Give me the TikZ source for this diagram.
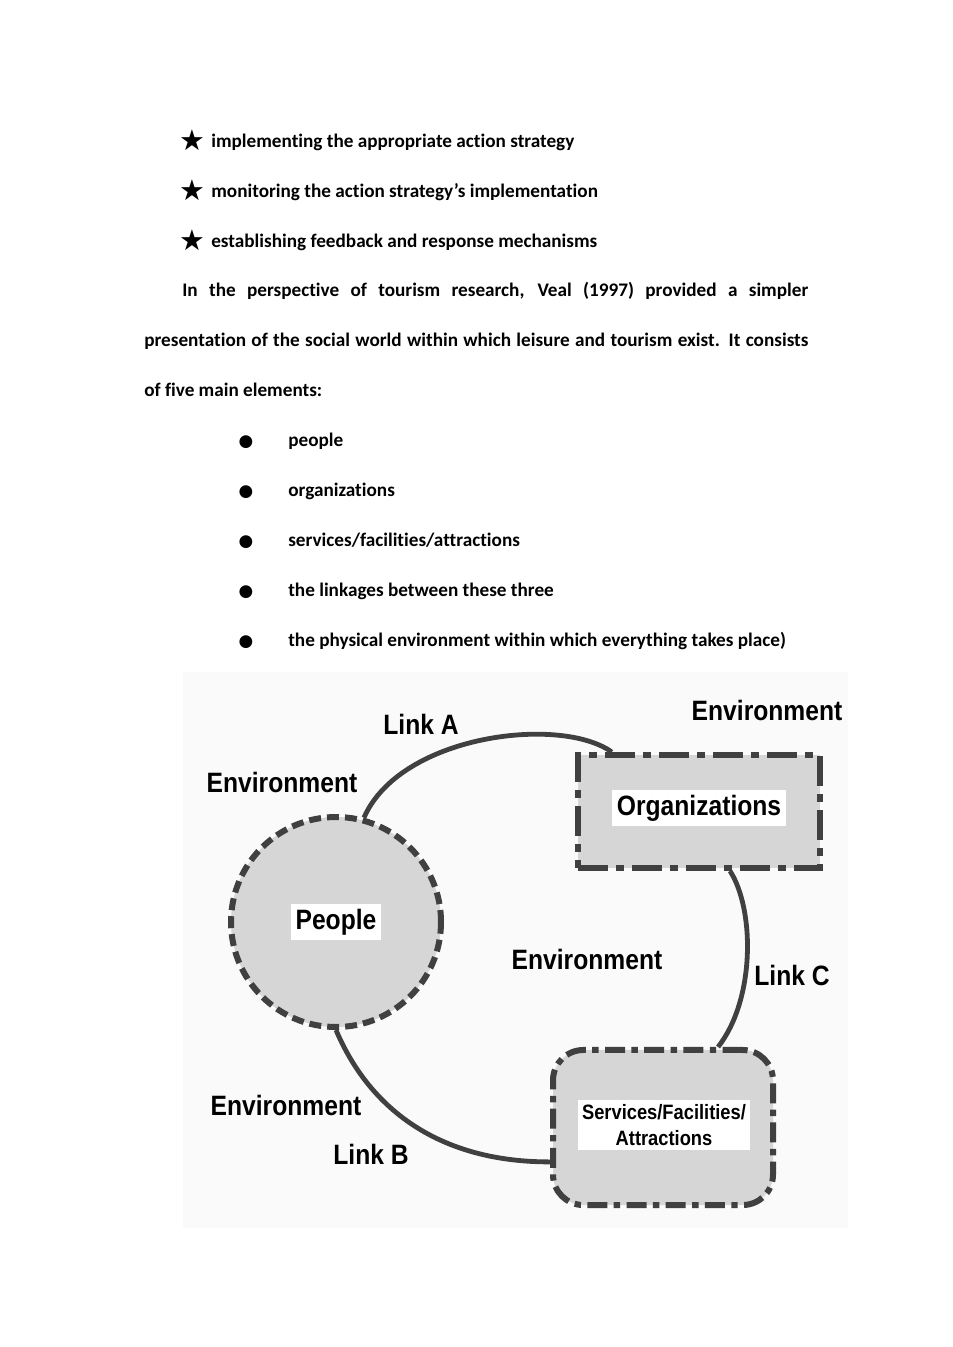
\documentclass[tikz,border=0pt]{standalone}
\usepackage{fontspec}
\setmainfont[Ligatures=NoCommon]{Carlito}
\newfontfamily\symfont{DejaVu Sans}
\newfontfamily\figfont[FakeStretch=0.88]{Liberation Sans}
\definecolor{edgegray}{HTML}{404040}
\definecolor{shapegray}{HTML}{D6D6D6}
\definecolor{bggray}{HTML}{FAFAFA}

\begin{document}
\begin{tikzpicture}[x=0.625pt,y=-0.625pt,
  body/.style={anchor=base west,inner sep=0pt,font=\bfseries\fontsize{12}{14}\selectfont},
  mark sym/.style={anchor=base,inner sep=0pt,font=\symfont\fontsize{18}{20}\selectfont},
  dot sym/.style={anchor=base,inner sep=0pt,font=\symfont\fontsize{10.5}{12}\selectfont},
  fig/.style={inner sep=0pt,font=\figfont\bfseries\fontsize{17.5}{20}\selectfont},
  lbl/.style={fig,fill=white,inner sep=2.8pt},
  link/.style={edgegray,line width=3pt},
  elem/.style={draw=edgegray,fill=shapegray,line width=3.75pt}]
\useasboundingbox (0,0) rectangle (952,1347);
\fill[white] (0,0) rectangle (952,1347);

% text above the figure
\node[mark sym] (s1) at (192,150) {★};
\node[body] (t1) at (211,147) {implementing the appropriate action strategy};
\node[mark sym] (s2) at (192,200) {★};
\node[body] (t2) at (211,197) {monitoring the action strategy’s implementation};
\node[mark sym] (s3) at (192,250) {★};
\node[body] (t3) at (211,247) {establishing feedback and response mechanisms};
\node[body] (p1) at (182,296) {\makebox[391.25pt][s]{In the perspective of tourism research, Veal (1997) provided a simpler}};
\node[body] (p2) at (144,346) {\makebox[415pt][s]{presentation of the social world within which leisure and tourism exist. It consists}};
\node[body] (p3) at (144,396) {of five main elements:};

\node[dot sym] (b1) at (246,446) {●};
\node[body] (e1) at (288,446) {people};
\node[dot sym] (b2) at (246,496) {●};
\node[body] (e2) at (288,496) {organizations};
\node[dot sym] (b3) at (246,546) {●};
\node[body] (e3) at (288,546) {services/facilities/attractions};
\node[dot sym] (b4) at (246,596) {●};
\node[body] (e4) at (288,596) {the linkages between these three};
\node[dot sym] (b5) at (246,646) {●};
\node[body] (e5) at (288,646) {the physical environment within which everything takes place)};

% the figure
\fill[bggray] (183,672) rectangle (848,1228);

\node[elem,circle,dash pattern=on 7.5pt off 3.75pt,minimum size=131.25pt] (people) at (336,922) {};
\node[elem,rectangle,dash pattern=on 18.75pt off 5pt on 5pt off 5pt,
  minimum width=151.25pt,minimum height=70.6pt] (org) at (699,811.5) {};
\node[elem,rectangle,rounded corners=19pt,dash pattern=on 12.5pt off 4pt on 4pt off 4pt,
  minimum width=137.5pt,minimum height=96.9pt] (serv) at (663,1127.5) {};

\draw[link] (people.75) .. controls (400,735) and (560,715) .. ([xshift=23pt]org.north west);
\draw[link] ([xshift=96.9pt]org.south west) .. controls (755,910) and (755,1000) .. ([xshift=34.4pt]serv.north);
\draw[link] (people.south) .. controls (370,1110) and (440,1162) .. ([yshift=-21.5pt]serv.west);

\node[lbl] (peoplelbl) at (people) {People};
\node[lbl] (orglbl) at (699,808) {Organizations};
\node[lbl,align=center,font=\figfont\bfseries\fontsize{13}{16}\selectfont] (servlbl) at (664,1125)
  {Services/Facilities/\\Attractions};

\node[fig] (linka) at (421,724) {Link A};
\node[fig] (linkb) at (371,1154) {Link B};
\node[fig] (linkc) at (792,975) {Link C};
\node[fig] (env1) at (767,710) {Environment};
\node[fig] (env2) at (282,782) {Environment};
\node[fig] (env3) at (587,959) {Environment};
\node[fig] (env4) at (286,1105) {Environment};
\end{tikzpicture}
\end{document}
